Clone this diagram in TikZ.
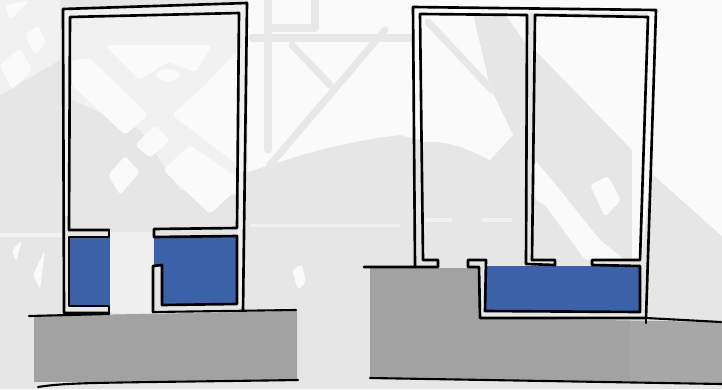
\documentclass[tikz,border=0pt]{standalone}
\usepackage{tikz}

\definecolor{watercol}{HTML}{3B62A8}
\definecolor{soilcol}{HTML}{A2A2A2}
\definecolor{papercol}{HTML}{E6E6E6}
\definecolor{blockcol}{HTML}{FAFAFA}
\definecolor{roadcol}{HTML}{E8E8E8}
\definecolor{faintcol}{HTML}{F1F1F1}

\tikzset{
    wall/.style={line width=1.5pt, black, line join=round, line cap=round},
    ground/.style={line width=1.2pt, black, line cap=round},
    water/.style={fill=watercol},
    soil/.style={fill=soilcol},
    block/.style={fill=blockcol, rounded corners=2pt},
    road/.style={line width=4pt, roadcol, line cap=round},
    gap/.style={fill=blockcol, opacity=0.5}
}

\begin{document}
\begin{tikzpicture}[x=0.02cm, y=-0.02cm]
    \useasboundingbox (0, 0) rectangle (722, 389);
    \fill[papercol] (0, 0) rectangle (722, 389);

    % Faded map, light blocks at the top
    \fill[blockcol] (248, 0) -- (421, 0) -- (421, 140) -- (400, 135) .. controls (340, 142) and (300, 155) .. (248, 172) -- cycle;
    \fill[blockcol] (420, 14) -- (473, 14) -- (490, 87) -- (513, 135) -- (490, 160)
        .. controls (470, 150) and (450, 140) .. (421, 142) -- cycle;
    \fill[blockcol] (473, 14) -- (527, 15) -- (527, 45) -- (505, 14) -- cycle;
    \fill[blockcol] (535, 15) -- (648, 17) -- (640, 260) -- (632, 258) -- (632, 150) -- (535, 50) -- cycle;
    \fill[blockcol] (413, 0) rectangle (660, 13);
    \fill[blockcol] (648, 0) -- (722, 0) -- (722, 236) -- (650, 172) -- (642, 258) -- (648, 17) -- cycle;

    % Faded map, the left section and its surroundings
    \fill[faintcol] (0, 0) -- (60, 0) -- (60, 60) -- (0, 95) -- cycle;
    \fill[faintcol] (70, 17) -- (239, 13) -- (238, 195) -- (180, 190) -- (140, 130) -- (72, 100) -- cycle;
    \fill[faintcol] (247, 3) -- (248, 172) -- (240, 172) -- cycle;

    % Faded map, roads between the blocks
    \draw[road] (252, 38) -- (410, 38);
    \draw[road] (268, 0) -- (268, 150);
    \draw[road] (272, 28) -- (315, 28);
    \draw[road] (315, 0) -- (315, 28);
    \draw[road] (292, 45) -- (330, 85);
    \draw[road] (385, 30) -- (270, 165);
    \draw[road] (428, 22) -- (492, 90);

    % Faded map, light blocks in the left section
    \fill[block] (72, 60) -- (90, 58) -- (148, 115) -- (125, 135) -- (72, 85) -- cycle;
    \fill[block] (105, 45) -- (212, 45) -- (196, 72) -- (168, 62) -- (140, 80) -- cycle;
    \fill[block] (172, 115) -- (205, 85) -- (238, 50) -- (238, 165) -- cycle;
    \fill[block] (163, 170) -- (190, 145) -- (238, 178) -- (236, 190) -- (210, 214) -- cycle;
    \fill[block] (135, 145) -- (155, 125) -- (170, 140) -- (150, 158) -- cycle;
    \fill[block] (108, 175) -- (125, 156) -- (140, 172) -- (120, 195) -- cycle;
    \fill[blockcol] (168, 75) ellipse (12 and 6);

    % Faded map, small blocks around the left section
    \fill[block] (0, 65) -- (20, 48) -- (32, 70) -- (12, 90) -- cycle;
    \fill[block] (25, 35) -- (38, 25) -- (46, 42) -- (35, 55) -- cycle;
    \fill[block] (5, 5) -- (30, 0) -- (10, 20) -- cycle;
    \fill[block] (33, 275) -- (45, 250) -- (40, 290) -- cycle;
    \fill[block] (12, 250) -- (22, 240) -- (16, 262) -- cycle;
    \fill[block] (292, 270) -- (302, 264) -- (306, 282) -- (298, 290) -- cycle;
    \fill[faintcol] (0, 233) rectangle (62, 237);
    \fill[faintcol] (250, 224) rectangle (400, 227);

    % Faded map, light blocks in the right section
    \fill[block] (590, 185) -- (608, 176) -- (621, 200) -- (605, 217) -- cycle;
    \fill[block] (535, 160) -- (560, 190) -- (600, 240) -- (625, 260) -- (585, 260) -- (545, 205) -- (535, 200) -- cycle;
    \fill[faintcol] (425, 218) rectangle (452, 222);
    \fill[faintcol] (482, 218) rectangle (512, 222);

    % Lighter band between the walls
    \fill[gap] (110, 232) rectangle (153, 313);
    \fill[gap] (64, 9) -- (247, 3) -- (243, 311) -- (237, 304) -- (239, 13) -- (70, 17) -- (69, 230) -- (64, 230) -- cycle;

    % Left section, soil and water
    \fill[soil] (34, 316) -- (297, 311) -- (297, 381) -- (34, 382) -- cycle;
    \fill[water] (69, 237) -- (110, 237) -- (110, 306) -- (69, 306) -- cycle;
    \fill[water] (154, 237) -- (237, 236) -- (237, 304) -- (162, 305) -- (162, 265) -- (154, 265) -- cycle;

    % Left section, walls
    \draw[wall] (109, 313) -- (64, 313) -- (63, 9) -- (247, 3) -- (243, 311);
    \draw[wall] (109, 230) -- (69, 230) -- (70, 17) -- (239, 13) -- (237, 228) -- (154, 229)
        -- (154, 237) -- (237, 236) -- (237, 304) -- (162, 305) -- (162, 265) -- (153, 266) -- (153, 312);
    \draw[wall] (109, 230) -- (109, 237) -- (69, 237) -- (69, 306) -- (109, 306) -- (109, 313);
    \draw[ground] (29, 316) -- (109, 314);
    \draw[ground] (153, 312) -- (296, 310);
    \draw[ground] (38, 387) .. controls (70, 382) and (100, 383) .. (298, 380);

    % Right section, soil and water
    \fill[soil] (370, 268) -- (479, 268) -- (480, 318) -- (722, 322) -- (722, 383) -- (370, 378) -- cycle;
    \fill[white, opacity=0.06] (630, 320) -- (722, 322) -- (722, 383) -- (630, 381) -- cycle;
    \fill[water] (486, 266) -- (640, 266) -- (640, 312) -- (486, 311) -- cycle;

    % Right section, walls
    \draw[wall] (364, 267) -- (438, 267) -- (438, 260) -- (423, 260) -- (420, 14) -- (527, 15)
        -- (526, 264) -- (555, 265) -- (555, 260) -- (532, 260) -- (535, 15) -- (648, 17) -- (640, 260)
        -- (592, 260) -- (592, 265) -- (640, 266) -- (640, 312) -- (485, 311) -- (486, 260) -- (468, 260)
        -- (468, 267) -- (479, 267) -- (480, 318) -- (646, 318) -- (656, 10) -- (413, 7) -- (415, 266);
    \draw[ground] (646, 318) -- (721, 322);
    \draw[ground] (646, 318) -- (646, 323);
    \draw[ground] (370, 378) -- (722, 384);
\end{tikzpicture}
\end{document}
